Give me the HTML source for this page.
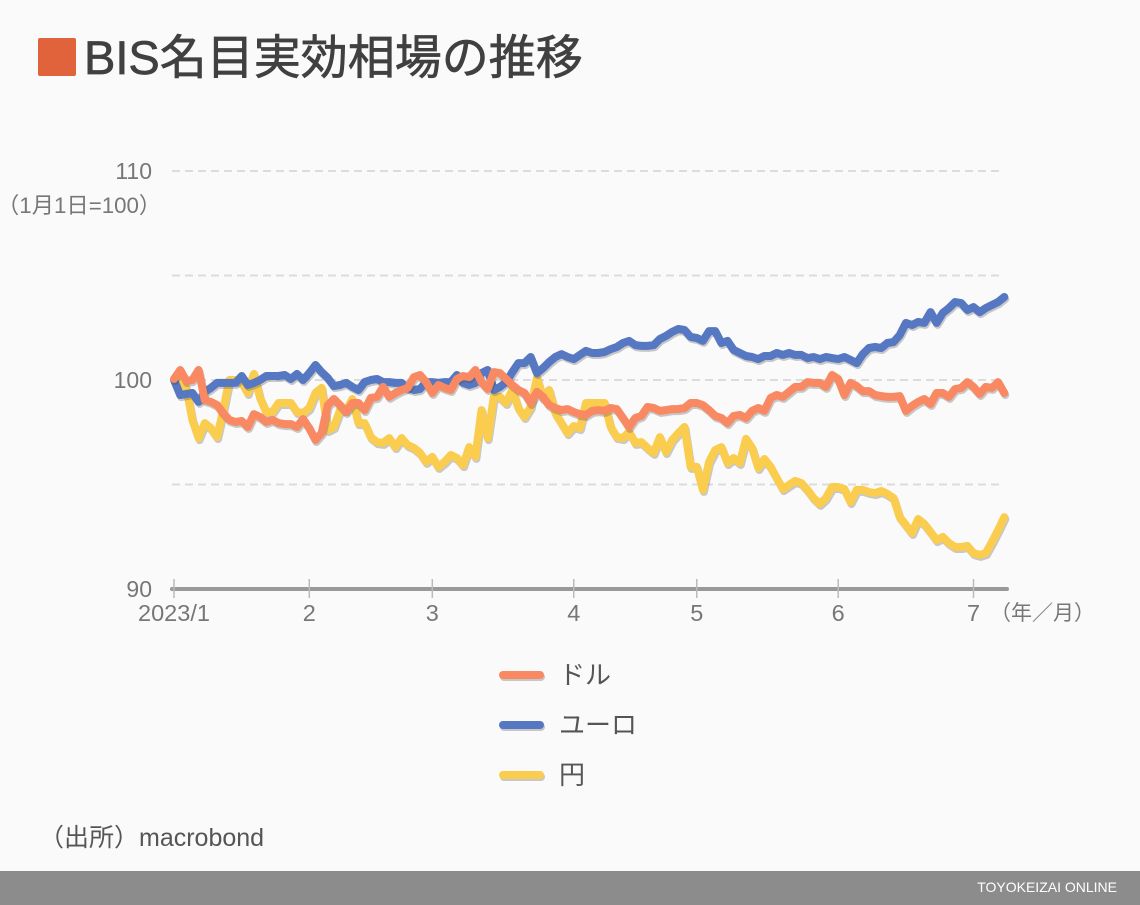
<!DOCTYPE html>
<html lang="ja">
<head>
<meta charset="utf-8">
<title>BIS名目実効相場の推移</title>
<style>
html,body{margin:0;padding:0;background:#fafafa;}
svg{display:block;width:1140px;height:905px;font-family:"Liberation Sans","Noto Sans CJK JP",sans-serif;}
.series{fill:none;stroke-width:8;stroke-linejoin:round;stroke-linecap:round;filter:drop-shadow(1px 2px 0 rgba(70,70,70,.28));}
</style>
</head>
<body>
<svg id="chart" xmlns="http://www.w3.org/2000/svg" width="1140" height="905" viewBox="0 0 1140 905">
  <rect x="0" y="0" width="1140" height="905" fill="#fafafa"/>
  <rect x="38" y="38" width="38" height="38" rx="2" fill="#e0633c"/>
  <text x="84" y="74" font-size="47" fill="#404040" stroke="#404040" stroke-width="0.7">BIS名目実効相場の推移</text>
  <text x="-3" y="213" font-size="22.3" fill="#777">（1月1日=100）</text>
  <g id="grid"></g>
  <g id="yLabels"></g>
  <g id="xAxis"></g>
  <g id="lines"></g>
  <text x="990" y="620" font-size="21" fill="#777">（年／月）</text>
  <g>
    <g>
      <line class="series" x1="503" y1="675" x2="540" y2="675" stroke="#f98962"/>
      <text x="559" y="684" font-size="26" fill="#555">ドル</text>
    </g>
    <g>
      <line class="series" x1="503" y1="725" x2="540" y2="725" stroke="#5677c1"/>
      <text x="559" y="734" font-size="26" fill="#555">ユーロ</text>
    </g>
    <g>
      <line class="series" x1="503" y1="775" x2="540" y2="775" stroke="#fbcd4e"/>
      <text x="559" y="784" font-size="26" fill="#555">円</text>
    </g>
  </g>
  <text x="39" y="846" font-size="25" fill="#555">（出所）macrobond</text>
  <rect x="0" y="871" width="1140" height="34" fill="#8c8c8c"/>
  <text x="1117" y="892" font-size="14" fill="#fff" text-anchor="end">TOYOKEIZAI ONLINE</text>
</svg>
<script>
const monthLabels = ['2023/1', '2', '3', '4', '5', '6', '7'];
const monthStartIndex = [0, 22, 42, 65, 85, 108, 130];
const yTickLabels = [110, 100, 90];
const gridValues = [110, 105, 100, 95];

const dollar = [100.05,100.48,99.95,100,100.48,99.04,98.95,98.80,98.42,98.09,97.99,98.04,97.75,98.37,98.23,97.99,98.09,97.94,97.89,97.89,97.75,98.13,97.70,97.13,97.46,98.80,99.09,98.80,98.47,98.90,98.90,98.56,99.14,99.19,99.67,99.19,99.38,99.52,99.62,100.14,100.24,99.90,99.38,99.76,99.62,99.52,100.05,
100.19,100.14,100.48,99.90,99.57,100.38,100.33,100.05,99.76,99.52,99.38,98.90,99.43,99.19,98.80,98.66,98.56,98.61,98.47,98.37,98.33,98.52,98.56,98.52,98.66,98.61,98.18,97.75,98.18,98.28,98.71,98.66,98.52,98.56,98.61,98.61,98.66,98.90,98.90,98.80,98.56,98.28,98.18,97.94,98.28,98.33,98.18,
98.52,98.66,98.52,99.14,99.28,99.19,99.43,99.67,99.67,99.90,99.86,99.86,99.67,100.24,100.05,99.28,99.86,99.71,99.47,99.47,99.28,99.23,99.19,99.19,99.23,98.52,98.76,98.95,99.09,98.85,99.38,99.38,99.19,99.57,99.62,99.90,99.67,99.33,99.67,99.62,99.90,99.38];

const euro = [100,99.28,99.33,99.38,98.95,99.43,99.62,99.86,99.86,99.86,99.86,100.19,99.76,99.86,100,100.19,100.19,100.19,100.24,100.05,100.29,100,100.33,100.72,100.38,100.10,99.71,99.76,99.86,99.67,99.52,99.90,100,100.05,99.90,99.90,99.86,99.86,99.62,99.52,99.57,99.90,99.90,99.86,99.90,
99.90,100.24,99.86,99.76,99.86,100.33,100.48,99.52,99.67,99.90,100.38,100.81,100.81,101.10,100.33,100.57,100.86,101.10,101.24,101.10,101.00,101.20,101.39,101.29,101.29,101.34,101.48,101.58,101.77,101.87,
101.67,101.63,101.63,101.67,101.96,102.11,102.30,102.44,102.39,102.06,102.01,101.87,102.34,102.34,101.77,101.87,101.44,101.29,
101.15,101.10,101.00,101.15,101.15,101.29,101.20,101.29,101.20,101.20,101.05,101.10,101.00,101.10,101.05,101.00,101.10,100.96,100.81,101.24,101.53,101.58,101.53,101.77,101.82,102.15,102.73,102.63,102.78,102.73,103.25,102.73,103.21,103.44,103.73,103.68,103.35,103.49,103.25,103.44,103.59,103.73,103.97];

const yen = [100.05,100.14,99.62,98.09,97.22,97.94,97.70,97.27,98.56,100,100,99.90,99.38,100.29,99.14,98.47,98.47,98.90,98.90,98.90,98.47,98.42,98.66,99.38,99.62,97.61,97.75,98.56,98.56,99.09,97.94,97.94,97.27,97.03,96.99,97.22,96.79,97.22,96.89,96.75,96.51,96.08,96.32,95.84,96.08,
96.41,96.27,95.93,96.79,96.32,98.56,97.22,99.19,99.19,98.90,99.52,98.66,98.23,98.71,100.10,99.14,99.52,98.42,97.94,97.46,97.80,97.70,98.90,98.90,98.90,98.90,97.75,97.27,97.22,97.51,96.99,97.03,96.75,96.51,97.27,96.55,97.13,97.46,97.75,95.84,95.84,94.74,96.08,96.65,96.79,96.03,
96.27,96.03,97.18,96.75,95.79,96.22,95.84,95.31,94.78,94.98,95.17,95.07,94.74,94.35,94.07,94.35,94.88,94.88,94.78,94.16,94.74,94.74,94.64,94.59,94.69,94.55,94.35,93.44,93.06,92.68,93.35,93.11,92.73,92.34,92.49,92.20,92.01,92.01,92.06,91.72,91.63,91.72,92.25,92.82,93.44];

const NS = 'http://www.w3.org/2000/svg';
function xScale(i) { return 174 + i * 6.15; }
function yScale(v) { return 380 - (v - 100) * 20.9; }
function make(tag, parent) {
  const el = document.createElementNS(NS, tag);
  parent.appendChild(el);
  return el;
}

const gridGroup = document.getElementById('grid');
gridValues.forEach(function (v) {
  const l = make('line', gridGroup);
  
  
  l.setAttribute('x1', 172);
  l.setAttribute('x2', 1004);
  l.setAttribute('y1', yScale(v));
  l.setAttribute('y2', yScale(v));
  l.setAttribute('stroke', '#dcdcdc');
  l.setAttribute('stroke-width', 2);
  l.setAttribute('stroke-dasharray', '8 5');
});

const yGroup = document.getElementById('yLabels');
yTickLabels.forEach(function (v) {
  const t = make('text', yGroup);
  
  
  t.setAttribute('x', 152);
  t.setAttribute('y', yScale(v) + 8);
  t.setAttribute('font-size', 23);
  t.setAttribute('fill', '#777');
  t.setAttribute('text-anchor', 'end');
  t.textContent = v;
});

const xGroup = document.getElementById('xAxis');
const axisLine = make('line', xGroup);


axisLine.setAttribute('x1', 172);
axisLine.setAttribute('x2', 1007);
axisLine.setAttribute('y1', yScale(90));
axisLine.setAttribute('y2', yScale(90));
axisLine.setAttribute('stroke', '#999');
axisLine.setAttribute('stroke-width', 4);
axisLine.setAttribute('stroke-linecap', 'round');
monthLabels.forEach(function (label, k) {
  const x = xScale(monthStartIndex[k]);
  const tick = make('line', xGroup);
  
  
  tick.setAttribute('x1', x);
  tick.setAttribute('x2', x);
  tick.setAttribute('y1', 579);
  tick.setAttribute('y2', 598);
  tick.setAttribute('stroke', '#bbb');
  tick.setAttribute('stroke-width', 1.5);
  const t = make('text', xGroup);
  
  
  t.setAttribute('x', x);
  t.setAttribute('y', 621);
  t.setAttribute('font-size', 23.5);
  t.setAttribute('fill', '#777');
  t.setAttribute('text-anchor', 'middle');
  t.textContent = label;
});

const lineGroup = document.getElementById('lines');
function drawSeries(values, color, name) {
  const p = make('polyline', lineGroup);
  
  
  p.setAttribute('class', 'series');
  p.setAttribute('stroke', color);
  p.setAttribute('points', values.map(function (v, i) {
    return xScale(i).toFixed(1) + ',' + yScale(v).toFixed(1);
  }).join(' '));
}
drawSeries(yen, '#fbcd4e', 'yen-line');
drawSeries(euro, '#5677c1', 'euro-line');
drawSeries(dollar, '#f98962', 'dollar-line');
</script>
</body>
</html>
